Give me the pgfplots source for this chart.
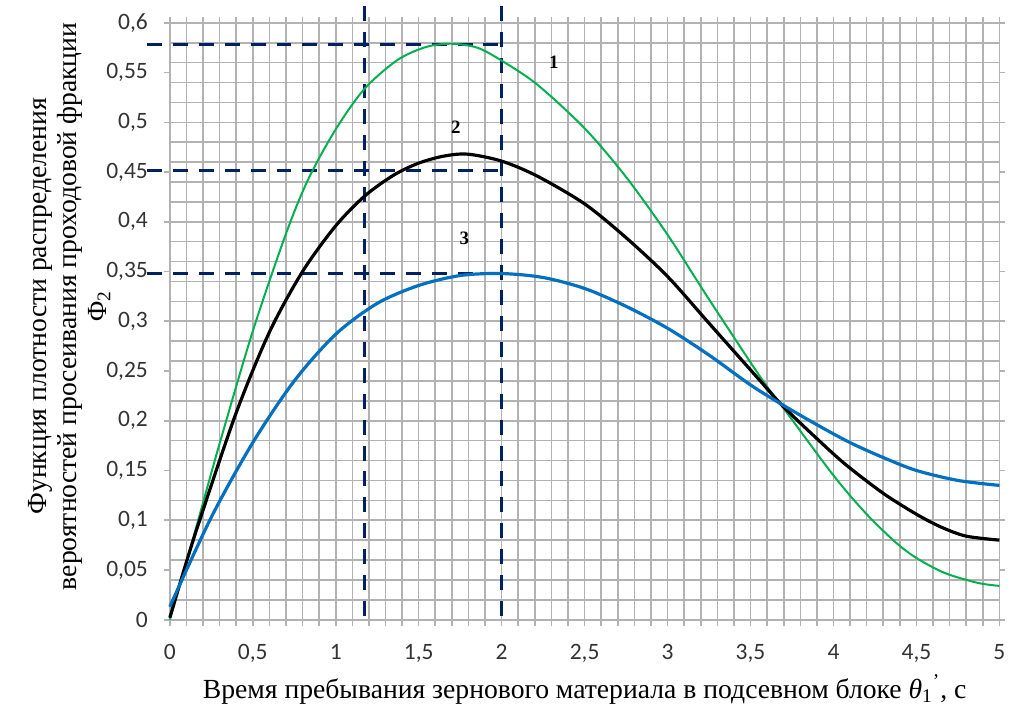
\documentclass[border=0pt]{standalone}
\usepackage{pgfplots}
\pgfplotsset{compat=1.18}
\usepackage{fontspec}
\setmainfont{Liberation Serif}
\newfontfamily\calibri{Carlito}
\definecolor{gridgray}{RGB}{178,178,178}
\definecolor{cgreen}{RGB}{0,176,80}
\definecolor{cblue}{RGB}{0,112,192}
\definecolor{cnavy}{RGB}{0,32,96}
\begin{document}
\begin{tikzpicture}
\begin{axis}[
  width=417pt, height=300pt, scale only axis,
  xmin=0, xmax=5, ymin=0, ymax=0.6,
  clip=false,
  axis line style={draw=gridgray, line width=0.8pt},
  tick align=outside,
  major tick length=3pt,
  minor tick length=0pt,
  tick style={draw=gridgray, line width=0.8pt},
  xtick={0,0.1,...,5.05},
  xticklabel={\phantom{0}},
  xmajorgrids=true,
  extra x ticks={0,0.5,...,5.05},
  extra x tick labels={0,{0,5},1,{1,5},2,{2,5},3,{3,5},4,{4,5},5},
  extra x tick style={grid=none, major tick length=0pt},
  ytick={0,0.05,...,0.61},
  ymajorgrids=false,
  minor ytick={0,0.02,...,0.61},
  yminorgrids=true,
  grid style={draw=gridgray, line width=0.8pt},
  minor grid style={draw=gridgray, line width=0.8pt},
  /pgf/number format/.cd, use comma, fixed, precision=2, assume math mode=true,
  /pgfplots/.cd,
  tick label style={font=\calibri\fontsize{11.8}{13}\selectfont, text=black!80},
  yticklabel style={xshift=-4.5pt},
  xticklabel style={yshift=-9pt},
]
% bounding box
\path (rel axis cs:-0.2047,-0.135) rectangle (rel axis cs:1.0088,1.0383);

% dashed guide lines
\addplot[cnavy, line width=1.5pt, dash pattern=on 7.5pt off 5.5pt] coordinates {(-0.136,0.578) (2.0,0.578)};
\addplot[cnavy, line width=1.5pt, dash pattern=on 7.5pt off 5.5pt] coordinates {(-0.136,0.452) (2.0,0.452)};
\addplot[cnavy, line width=1.5pt, dash pattern=on 7.5pt off 5.5pt] coordinates {(-0.136,0.348) (2.0,0.348)};
\addplot[cnavy, line width=1.5pt, dash pattern=on 7.5pt off 5.5pt] coordinates {(1.175,0.004) (1.175,0.62)};
\addplot[cnavy, line width=1.5pt, dash pattern=on 7.5pt off 5.5pt] coordinates {(2.0,0.004) (2.0,0.62)};

% curve 1 (green)
\addplot[cgreen, line width=1pt, smooth] coordinates {
(0,0.0) (0.1,0.058) (0.176,0.103) (0.3,0.177) (0.5,0.290) (0.7,0.388) (0.835,0.443)
(1.0,0.493) (1.175,0.534) (1.375,0.563) (1.55,0.576) (1.7,0.579) (1.854,0.575)
(2.0,0.562) (2.214,0.538) (2.5,0.494) (2.75,0.445) (3.0,0.387) (3.25,0.322)
(3.563,0.243) (3.693,0.214) (4.0,0.145) (4.2,0.106) (4.373,0.078) (4.5,0.062)
(4.67,0.047) (4.87,0.037) (5.0,0.034)};

% curve 2 (black)
\addplot[black, line width=1.6pt, smooth] coordinates {
(0,0.002) (0.1,0.058) (0.186,0.103) (0.4,0.208) (0.6,0.289) (0.8,0.350) (1.0,0.396)
(1.175,0.426) (1.35,0.447) (1.5,0.459) (1.65,0.466) (1.795,0.468) (2.0,0.461)
(2.214,0.446) (2.5,0.418) (2.75,0.384) (3.0,0.345) (3.25,0.298) (3.543,0.243)
(3.693,0.215) (3.9,0.182) (4.073,0.156) (4.3,0.127) (4.5,0.106) (4.65,0.093)
(4.8,0.084) (5.0,0.080)};

% curve 3 (blue)
\addplot[cblue, line width=1.6pt, smooth] coordinates {
(0,0.013) (0.25,0.103) (0.5,0.178) (0.75,0.240) (1.0,0.287) (1.25,0.318)
(1.5,0.336) (1.75,0.346) (2.0,0.348) (2.25,0.344) (2.5,0.333) (2.75,0.315)
(3.0,0.293) (3.25,0.266) (3.5,0.236) (3.693,0.216) (3.9,0.196) (4.1,0.178)
(4.3,0.163) (4.5,0.150) (4.75,0.140) (5.0,0.135)};

% curve numbers
\node[font=\bfseries\fontsize{9.5}{11}\selectfont] at (axis cs:2.314,0.560) {1};
\node[font=\bfseries\fontsize{9.5}{11}\selectfont] at (axis cs:1.724,0.495) {2};
\node[font=\bfseries\fontsize{9.5}{11}\selectfont] at (axis cs:1.775,0.383) {3};

% axis labels
\node[rotate=90, align=center, font=\fontsize{13.9}{15}\selectfont] at (rel axis cs:-0.121,0.525)
  {Функция плотности распределения\\вероятностей просеивания проходовой фракции\\Φ\textsubscript{2}};
\node[font=\fontsize{13.9}{15}\selectfont] at (rel axis cs:0.5,-0.117)
  {Время пребывания зернового материала в подсевном блоке \textit{θ}\textsubscript{1}\textsuperscript{'}, с};
\end{axis}
\end{tikzpicture}
\end{document}
